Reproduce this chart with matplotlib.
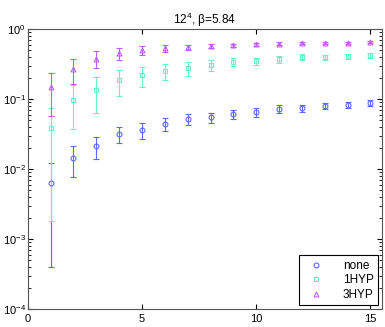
import numpy as np
import matplotlib
matplotlib.use('Agg')
import matplotlib.pyplot as plt
from matplotlib.lines import Line2D

plt.rcParams['font.family'] = ['Liberation Sans', 'DejaVu Sans']
plt.rcParams['mathtext.fontset'] = 'custom'
plt.rcParams['mathtext.rm'] = 'Liberation Sans'

x = np.arange(1, 16)

none_y = [0.0063, 0.0144, 0.0213, 0.0316, 0.036, 0.044, 0.052, 0.055,
          0.061, 0.065, 0.072, 0.074, 0.079, 0.082, 0.088]
none_err = [0.0059, 0.0068, 0.0072, 0.008, 0.009, 0.009, 0.009, 0.009,
            0.009, 0.009, 0.009, 0.008, 0.008, 0.008, 0.008]

hyp1_y = [0.0385, 0.097, 0.134, 0.187, 0.22, 0.25, 0.277, 0.306,
          0.338, 0.35, 0.37, 0.40, 0.40, 0.41, 0.42]
hyp1_err = [0.0367, 0.06, 0.07, 0.075, 0.07, 0.065, 0.06, 0.05,
            0.045, 0.04, 0.038, 0.035, 0.033, 0.03, 0.03]

hyp3_y = [0.148, 0.268, 0.38, 0.45, 0.5, 0.53, 0.55, 0.57,
          0.59, 0.61, 0.62, 0.63, 0.635, 0.64, 0.66]
hyp3_err = [0.09, 0.105, 0.1, 0.09, 0.08, 0.06, 0.05, 0.035,
            0.03, 0.03, 0.028, 0.027, 0.026, 0.025, 0.025]

labels = ['none', '1HYP', '3HYP']
colors = ['#5a6cff', '#6cf0c4', '#c45cff']
markers = ['o', 's', '^']

fig = plt.figure(figsize=(3.85, 3.27), dpi=100)
ax = fig.add_axes([0.072, 0.055, 0.920, 0.856])

series = [(none_y, none_err), (hyp1_y, hyp1_err), (hyp3_y, hyp3_err)]
handles = []
for (y, e), lab, c, m in zip(series, labels, colors, markers):
    ax.errorbar(x, y, yerr=e, fmt=m, color=c, mfc='none', mec=c, ms=3.5,
                mew=0.8, elinewidth=0.8, capsize=2.5, capthick=0.8)
    handles.append(Line2D([], [], ls='none', marker=m, mfc='none', mec=c,
                          ms=3.5, mew=0.8, label=lab))

ax.set_yscale('log')
ax.set_xlim(0, 15.5)
ax.set_ylim(1e-4, 1)
ax.set_xticks([0, 5, 10, 15])
ax.set_title('12$^4$, β=5.84', fontsize=8.5, pad=4)
ax.tick_params(which='both', direction='in', top=True, right=True, labelsize=8)
ax.tick_params(axis='y', pad=1.5)
for s in ax.spines.values():
    s.set_color('#555555')

leg = ax.legend(handles=handles, loc='lower right', fontsize=8.5, fancybox=False,
                framealpha=1, edgecolor='black', handletextpad=1.3,
                handlelength=2.0, borderaxespad=0.3, labelspacing=0.2)
leg.get_frame().set_linewidth(0.8)

fig.savefig('out.png', dpi=100)
